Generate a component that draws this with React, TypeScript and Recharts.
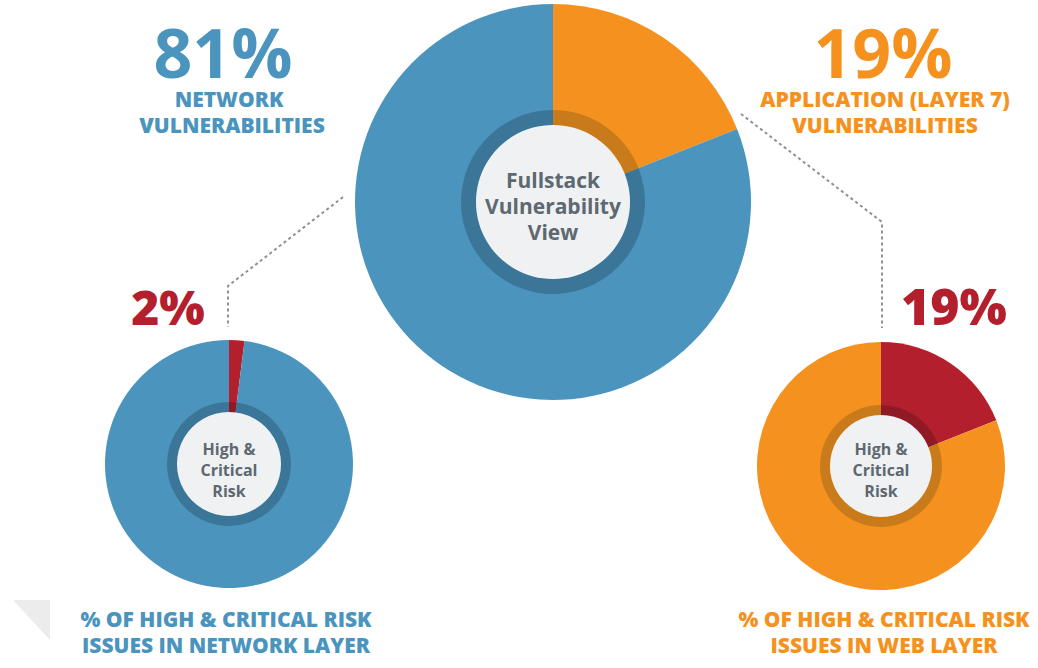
import { PieChart, Pie, Cell } from "recharts";

// fullstack split (clockwise from 12 o'clock)
const mainNames = ["Application (Layer 7)", "Network"];
const mainValues = [19, 81];

// share of high & critical risk issues per layer
const netNames = ["High & Critical", "Other"];
const netValues = [2, 98];
const webNames = ["High & Critical", "Other"];
const webValues = [19, 81];

const BLUE = "#4a94bd";
const BLUE_DARK = "#3b7699";
const ORANGE = "#f5921f";
const ORANGE_DARK = "#c97b1c";
const RED = "#b41f2e";
const RED_DARK = "#8f1a26";
const CENTER = "#eff1f3";
const TEXT = "#5d6870";
const DASH = "#8b9197";

const mainData = mainNames.map((name, i) => ({ name, value: mainValues[i] }));
const netData = netNames.map((name, i) => ({ name, value: netValues[i] }));
const webData = webNames.map((name, i) => ({ name, value: webValues[i] }));
const disc = [{ name: "center", value: 1 }];

const font = "'Open Sans', 'Noto Sans', sans-serif";

// texts and connectors, drawn over the chart
function Labels() {
  return (
    <svg
      width={1038}
      height={668}
      style={{ position: "absolute", left: 0, top: 0, pointerEvents: "none" }}
    >
      <g fontFamily={font} textAnchor="middle">
        {/* folded corner decoration */}
        <polygon points="13,600 50,600 50,640" fill="#ececec" />

        <polyline
          points="343,197 228,286 228,327"
          fill="none"
          stroke={DASH}
          strokeWidth={2}
          strokeDasharray="3 3"
        />
        <polyline
          points="741,114 882,222 882,328"
          fill="none"
          stroke={DASH}
          strokeWidth={2}
          strokeDasharray="3 3"
        />

        <text x={223} y={78} fontSize={68} fontWeight={700} fill={BLUE}>
          {mainValues[1]}%
        </text>
        <text x={229} y={107} fontSize={21} fontWeight={800} fill={BLUE}>
          NETWORK
        </text>
        <text x={232} y={133} fontSize={21} fontWeight={800} fill={BLUE}>
          VULNERABILITIES
        </text>

        <text x={883} y={78} fontSize={68} fontWeight={700} fill={ORANGE}>
          {mainValues[0]}%
        </text>
        <text x={885} y={107} fontSize={21} fontWeight={800} fill={ORANGE}>
          APPLICATION (LAYER 7)
        </text>
        <text x={885} y={133} fontSize={21} fontWeight={800} fill={ORANGE}>
          VULNERABILITIES
        </text>

        <text x={168} y={325} fontSize={48} fontWeight={800} fill={RED}>
          {netValues[0]}%
        </text>
        <text x={954} y={325} fontSize={50} fontWeight={800} fill={RED}>
          {webValues[0]}%
        </text>

        <text fontSize={21} fontWeight={700} fill={TEXT}>
          <tspan x={553} y={188}>Fullstack</tspan>
          <tspan x={553} y={214}>Vulnerability</tspan>
          <tspan x={553} y={240}>View</tspan>
        </text>

        <text fontSize={16} fontWeight={700} fill={TEXT}>
          <tspan x={229} y={455}>High &amp;</tspan>
          <tspan x={229} y={476}>Critical</tspan>
          <tspan x={229} y={497}>Risk</tspan>
        </text>
        <text fontSize={16} fontWeight={700} fill={TEXT}>
          <tspan x={881} y={455}>High &amp;</tspan>
          <tspan x={881} y={476}>Critical</tspan>
          <tspan x={881} y={497}>Risk</tspan>
        </text>

        <text fontSize={21} fontWeight={800} fill={BLUE}>
          <tspan x={226} y={627}>% OF HIGH &amp; CRITICAL RISK</tspan>
          <tspan x={226} y={653}>ISSUES IN NETWORK LAYER</tspan>
        </text>
        <text fontSize={21} fontWeight={800} fill={ORANGE}>
          <tspan x={884} y={627}>% OF HIGH &amp; CRITICAL RISK</tspan>
          <tspan x={884} y={653}>ISSUES IN WEB LAYER</tspan>
        </text>
      </g>
    </svg>
  );
}

type DonutProps = {
  id: string;
  data: { name: string; value: number }[];
  cx: number;
  cy: number;
  outer: number;
  ring: number;
  inner: number;
  fills: string[];
  darks: string[];
};

function donut({ id, data, cx, cy, outer, ring, inner, fills, darks }: DonutProps) {
  return [
    <Pie
      key={id + "-outer"}
      data={data}
      dataKey="value"
      cx={cx}
      cy={cy}
      outerRadius={outer}
      innerRadius={0}
      startAngle={90}
      endAngle={-270}
      stroke="none"
      isAnimationActive={false}
    >
      {data.map((d, i) => (
        <Cell key={d.name} fill={fills[i]} />
      ))}
    </Pie>,
    <Pie
      key={id + "-ring"}
      data={data}
      dataKey="value"
      cx={cx}
      cy={cy}
      outerRadius={ring}
      innerRadius={inner}
      startAngle={90}
      endAngle={-270}
      stroke="none"
      isAnimationActive={false}
    >
      {data.map((d, i) => (
        <Cell key={d.name} fill={darks[i]} />
      ))}
    </Pie>,
    <Pie
      key={id + "-disc"}
      data={disc}
      dataKey="value"
      cx={cx}
      cy={cy}
      outerRadius={inner}
      stroke="none"
      fill={CENTER}
      isAnimationActive={false}
    />,
  ];
}

export default function App() {
  return (
    <div
      style={{
        position: "absolute",
        left: 0,
        top: 0,
        width: 1038,
        height: 668,
        background: "#fff",
      }}
    >
      <PieChart width={1038} height={668} margin={{ top: 0, right: 0, bottom: 0, left: 0 }}>
        {donut({
          id: "main",
          data: mainData,
          cx: 553,
          cy: 202,
          outer: 198,
          ring: 92,
          inner: 77,
          fills: [ORANGE, BLUE],
          darks: [ORANGE_DARK, BLUE_DARK],
        })}
        {donut({
          id: "net",
          data: netData,
          cx: 229,
          cy: 464,
          outer: 124,
          ring: 62,
          inner: 52,
          fills: [RED, BLUE],
          darks: [RED_DARK, BLUE_DARK],
        })}
        {donut({
          id: "web",
          data: webData,
          cx: 881,
          cy: 466,
          outer: 124,
          ring: 61,
          inner: 51,
          fills: [RED, ORANGE],
          darks: [RED_DARK, ORANGE_DARK],
        })}
      </PieChart>
      <Labels />
    </div>
  );
}
